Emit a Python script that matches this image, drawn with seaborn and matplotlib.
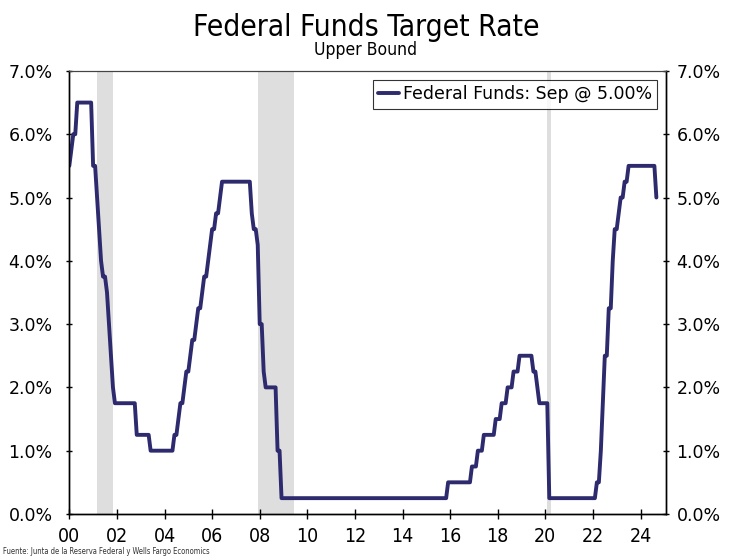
import matplotlib
matplotlib.use("Agg")
import matplotlib.pyplot as plt
import seaborn as sns
import pandas as pd
import numpy as np
from matplotlib.ticker import FuncFormatter

# ---- data: Fed funds target (upper bound), end-of-month, Jan 2000 - Sep 2024 ----
start_year = 2000
rate = [
    5.5, 5.75, 6.0, 6.0, 6.5, 6.5, 6.5, 6.5, 6.5, 6.5, 6.5, 6.5,            # 2000
    5.5, 5.5, 5.0, 4.5, 4.0, 3.75, 3.75, 3.5, 3.0, 2.5, 2.0, 1.75,          # 2001
    1.75, 1.75, 1.75, 1.75, 1.75, 1.75, 1.75, 1.75, 1.75, 1.75, 1.25, 1.25, # 2002
    1.25, 1.25, 1.25, 1.25, 1.25, 1.0, 1.0, 1.0, 1.0, 1.0, 1.0, 1.0,        # 2003
    1.0, 1.0, 1.0, 1.0, 1.0, 1.25, 1.25, 1.5, 1.75, 1.75, 2.0, 2.25,        # 2004
    2.25, 2.5, 2.75, 2.75, 3.0, 3.25, 3.25, 3.5, 3.75, 3.75, 4.0, 4.25,     # 2005
    4.5, 4.5, 4.75, 4.75, 5.0, 5.25, 5.25, 5.25, 5.25, 5.25, 5.25, 5.25,    # 2006
    5.25, 5.25, 5.25, 5.25, 5.25, 5.25, 5.25, 5.25, 4.75, 4.5, 4.5, 4.25,   # 2007
    3.0, 3.0, 2.25, 2.0, 2.0, 2.0, 2.0, 2.0, 2.0, 1.0, 1.0, 0.25,           # 2008
    0.25, 0.25, 0.25, 0.25, 0.25, 0.25, 0.25, 0.25, 0.25, 0.25, 0.25, 0.25, # 2009
    0.25, 0.25, 0.25, 0.25, 0.25, 0.25, 0.25, 0.25, 0.25, 0.25, 0.25, 0.25, # 2010
    0.25, 0.25, 0.25, 0.25, 0.25, 0.25, 0.25, 0.25, 0.25, 0.25, 0.25, 0.25, # 2011
    0.25, 0.25, 0.25, 0.25, 0.25, 0.25, 0.25, 0.25, 0.25, 0.25, 0.25, 0.25, # 2012
    0.25, 0.25, 0.25, 0.25, 0.25, 0.25, 0.25, 0.25, 0.25, 0.25, 0.25, 0.25, # 2013
    0.25, 0.25, 0.25, 0.25, 0.25, 0.25, 0.25, 0.25, 0.25, 0.25, 0.25, 0.25, # 2014
    0.25, 0.25, 0.25, 0.25, 0.25, 0.25, 0.25, 0.25, 0.25, 0.25, 0.25, 0.5,  # 2015
    0.5, 0.5, 0.5, 0.5, 0.5, 0.5, 0.5, 0.5, 0.5, 0.5, 0.5, 0.75,            # 2016
    0.75, 0.75, 1.0, 1.0, 1.0, 1.25, 1.25, 1.25, 1.25, 1.25, 1.25, 1.5,     # 2017
    1.5, 1.5, 1.75, 1.75, 1.75, 2.0, 2.0, 2.0, 2.25, 2.25, 2.25, 2.5,       # 2018
    2.5, 2.5, 2.5, 2.5, 2.5, 2.5, 2.25, 2.25, 2.0, 1.75, 1.75, 1.75,        # 2019
    1.75, 1.75, 0.25, 0.25, 0.25, 0.25, 0.25, 0.25, 0.25, 0.25, 0.25, 0.25, # 2020
    0.25, 0.25, 0.25, 0.25, 0.25, 0.25, 0.25, 0.25, 0.25, 0.25, 0.25, 0.25, # 2021
    0.25, 0.25, 0.5, 0.5, 1.0, 1.75, 2.5, 2.5, 3.25, 3.25, 4.0, 4.5,        # 2022
    4.5, 4.75, 5.0, 5.0, 5.25, 5.25, 5.5, 5.5, 5.5, 5.5, 5.5, 5.5,          # 2023
    5.5, 5.5, 5.5, 5.5, 5.5, 5.5, 5.5, 5.5, 5.0,                            # 2024
]
# recessions (start, end) in fractional years
recession_start = [2001.17, 2007.92, 2020.09]
recession_end = [2001.84, 2009.42, 2020.23]

x_ticks = list(range(2000, 2025, 2))
x_tick_labels = ["00", "02", "04", "06", "08", "10", "12", "14", "16", "18", "20", "22", "24"]
y_ticks = [0, 1, 2, 3, 4, 5, 6, 7]

series_label = "Federal Funds: Sep @ 5.00%"
title = "Federal Funds Target Rate"
subtitle = "Upper Bound"
source = "Fuente: Junta de la Reserva Federal y Wells Fargo Economics"

# ---- build frame ----
months = np.arange(len(rate))
df = pd.DataFrame({"year": start_year + months / 12.0, "rate": rate, "series": series_label})

sns.set_style("white")
plt.rcParams["font.family"] = ["DejaVu Sans"]
plt.rcParams["text.color"] = "black"
plt.rcParams["xtick.color"] = "black"
plt.rcParams["ytick.color"] = "black"
plt.rcParams["xtick.labelcolor"] = "black"
plt.rcParams["ytick.labelcolor"] = "black"
narrow = ["DejaVu Sans Condensed", "Liberation Sans Narrow", "DejaVu Sans"]

line_color = "#2D2A6E"

fig = plt.figure(figsize=(7.32, 5.58), dpi=100)
ax = fig.add_axes([0.0947, 0.0789, 0.8151, 0.7940])

for s, e in zip(recession_start, recession_end):
    ax.axvspan(s, e, color="#DEDEDE", lw=0, zorder=0)

sns.lineplot(data=df, x="year", y="rate", hue="series", palette=[line_color],
             linewidth=2.8, ax=ax, zorder=3)

ax.set_xlim(2000, 2025.07)
ax.set_ylim(0, 7)
ax.set_xlabel("")
ax.set_ylabel("")

ax.set_xticks(x_ticks)
ax.set_xticklabels(x_tick_labels, fontsize=14, family=narrow, stretch="condensed", color="black")
ax.set_yticks(y_ticks)
ax.yaxis.set_major_formatter(FuncFormatter(lambda v, p: f"{v:.1f}%"))

ax.tick_params(axis="x", direction="inout", length=7, width=1, color="black", pad=6, bottom=True)
ax.tick_params(axis="y", direction="inout", length=5, width=1, color="black", pad=9.5,
               left=True, labelsize=12.5, labelcolor="black")

ax2 = ax.twinx()
ax2.set_ylim(0, 7)
ax2.set_yticks(y_ticks)
ax2.yaxis.set_major_formatter(FuncFormatter(lambda v, p: f"{v:.1f}%"))
ax2.tick_params(axis="y", direction="inout", length=5, width=1, color="black", pad=5,
                right=True, labelsize=12.5, labelcolor="black")
ax2.grid(False)

for a in (ax, ax2):
    for side in ("left", "bottom", "right"):
        a.spines[side].set_color("black")
        a.spines[side].set_linewidth(1.0)
        a.spines[side].set_visible(True)
    a.spines["top"].set_color("#444444")
    a.spines["top"].set_linewidth(0.8)

ax.grid(False)

leg = ax.legend(loc="upper right", bbox_to_anchor=(0.985, 0.979), borderaxespad=0,
                frameon=True, fancybox=False, edgecolor="black", fontsize=12.5,
                handlelength=1.2, handletextpad=0.2, borderpad=0.3)
leg.get_frame().set_linewidth(0.8)
for t in leg.get_texts():
    t.set_color("black")
leg.set_zorder(5)

fig.text(0.5, 0.9500, title, ha="center", va="center", fontsize=21.5,
         family=narrow, stretch="condensed", color="black")
fig.text(0.5, 0.911, subtitle, ha="center", va="center", fontsize=12.6,
         family=narrow, stretch="condensed", color="black")
fig.text(0.004, 0.011, source, ha="left", va="center", fontsize=5.5,
         family=["Liberation Sans Narrow", "DejaVu Sans"], stretch="condensed", color="#333333")

fig.savefig("out.png", dpi=100)
